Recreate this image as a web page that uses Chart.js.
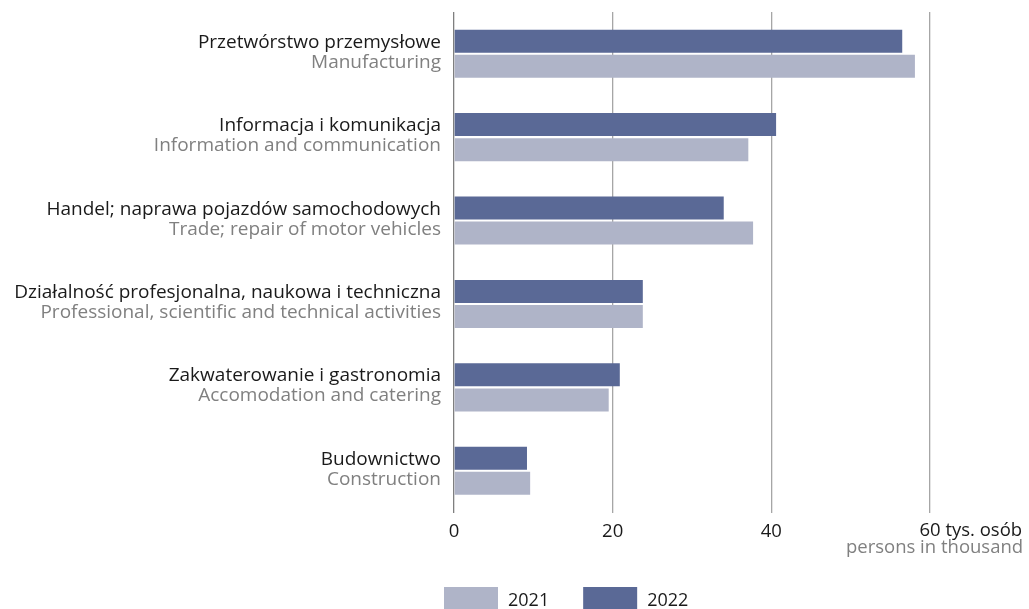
<!DOCTYPE html>
<html>
<head>
<meta charset="utf-8">
<script src="https://cdn.jsdelivr.net/npm/chart.js@4/dist/chart.umd.min.js"></script>
<style>
  html, body { margin: 0; padding: 0; background: #ffffff; }
  #wrap { width: 1029px; height: 609px; position: relative; }
</style>
</head>
<body>
<div id="wrap"><canvas id="c" width="1029" height="609"></canvas></div>
<script>
const categoriesPL = [
  "Przetwórstwo przemysłowe",
  "Informacja i komunikacja",
  "Handel; naprawa pojazdów samochodowych",
  "Działalność profesjonalna, naukowa i techniczna",
  "Zakwaterowanie i gastronomia",
  "Budownictwo"
];
const categoriesEN = [
  "Manufacturing",
  "Information and communication",
  "Trade; repair of motor vehicles",
  "Professional, scientific and technical activities",
  "Accomodation and catering",
  "Construction"
];
const values2022 = [56.5, 40.6, 34.0, 23.8, 20.9, 9.2];
const values2021 = [58.1, 37.1, 37.7, 23.8, 19.5, 9.6];
const seriesLabels = ["2022", "2021"];
const xTicks = [0, 20, 40, 60];
const unitPL = "tys. osób";
const unitEN = "persons in thousand";

const FONT = "'Open Sans', 'Noto Sans', sans-serif";
const COL2022 = "#5a6996";
const COL2021 = "#afb4c8";
const TXT = "#1a1a1a";
const GREY = "#808080";

const labelPlugin = {
  id: 'customLabels',
  afterDraw(chart) {
    const ctx = chart.ctx;
    const y = chart.scales.y;
    const x = chart.scales.x;
    ctx.save();
    // category labels
    ctx.textAlign = 'right';
    ctx.textBaseline = 'alphabetic';
    ctx.font = "19px " + FONT;
    categoriesPL.forEach((pl, i) => {
      const cy = y.getPixelForValue(i);
      ctx.fillStyle = TXT;
      ctx.fillText(pl, 441, cy - 6);
      ctx.fillStyle = GREY;
      ctx.fillText(categoriesEN[i], 441, cy + 14);
    });
    // last x tick with unit
    ctx.font = "18.5px " + FONT;
    const maxV = xTicks[xTicks.length - 1];
    const px = x.getPixelForValue(maxV);
    const numStr = String(maxV);
    const main = numStr + " " + unitPL;
    const wNum = ctx.measureText(numStr).width;
    const wMain = ctx.measureText(main).width;
    const sx = px - wNum / 2;
    ctx.textAlign = 'left';
    ctx.fillStyle = TXT;
    ctx.fillText(main, sx, 536);
    ctx.textAlign = 'right';
    ctx.fillStyle = GREY;
    ctx.fillText(unitEN, sx + wMain + 1, 553);
    // legend (2021 then 2022)
    const order = [1, 0];
    ctx.font = "18px " + FONT;
    ctx.textAlign = 'left';
    let lx = 444;
    order.forEach((di) => {
      const ds = chart.data.datasets[di];
      ctx.fillStyle = ds.backgroundColor;
      ctx.fillRect(lx, 587, 54, 22);
      ctx.fillStyle = TXT;
      ctx.fillText(ds.label, lx + 64, 606);
      lx += 64 + ctx.measureText(ds.label).width + 34;
    });
    ctx.restore();
  }
};

new Chart(document.getElementById('c'), {
  type: 'bar',
  data: {
    labels: categoriesPL,
    datasets: [
      { label: seriesLabels[0], data: values2022, backgroundColor: COL2022 },
      { label: seriesLabels[1], data: values2021, backgroundColor: COL2021 }
    ]
  },
  options: {
    indexAxis: 'y',
    responsive: false,
    animation: false,
    devicePixelRatio: 1,
    layout: { padding: { top: 12, left: 0, right: 99, bottom: 0 } },
    datasets: { bar: { categoryPercentage: 0.6, barPercentage: 0.92 } },
    plugins: { legend: { display: false }, tooltip: { enabled: false } },
    scales: {
      x: {
        min: 0, max: 60,
        afterBuildTicks(axis) { axis.ticks = xTicks.map(v => ({ value: v })); },
        afterFit(axis) { axis.height = 609 - 12 - 500.5; },
        grid: {
          drawTicks: false,
          color: (c) => c.tick && c.tick.value === 0 ? '#7f7f7f' : '#a6a6a6',
          lineWidth: 1.3
        },
        border: { display: false },
        ticks: {
          padding: 8,
          color: TXT,
          font: { family: FONT, size: 18.5 },
          callback: (v) => v === xTicks[xTicks.length - 1] ? '' : String(v)
        }
      },
      y: {
        afterFit(axis) { axis.width = 454; },
        grid: { display: false },
        border: { display: false },
        ticks: { display: false }
      }
    }
  },
  plugins: [labelPlugin]
});
</script>
</body>
</html>
